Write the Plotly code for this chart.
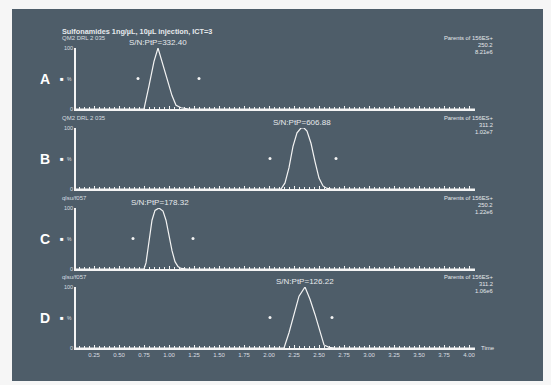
import plotly.graph_objects as go

# ---- data ----
panel_labels = ["A", "B", "C", "D"]
channel_names = ["QM2 DRL 2 035", "QM2 DRL 2 035", "qlsu/f057", "qlsu/f057"]
sn_labels = ["S/N:PtP=332.40", "S/N:PtP=606.88", "S/N:PtP=178.32", "S/N:PtP=126.22"]
masses = ["250.2", "311.2", "250.2", "311.2"]
intensities = ["8.21e6", "1.02e7", "1.22e6", "1.06e6"]
parent_label = "Parents of 156ES+"
title_text = "Sulfonamides 1ng/µL, 10µL injection, ICT=3"

time_a = [0.07, 0.75, 0.80, 0.85, 0.89, 0.93, 0.98, 1.03, 1.07, 1.12, 1.20, 4.06]
int_a = [0, 0, 38, 78, 100, 78, 50, 22, 6, 2, 0, 0]
time_b = [0.07, 2.12, 2.16, 2.20, 2.24, 2.28, 2.32, 2.35, 2.38, 2.42, 2.46, 2.50, 2.54, 2.58, 2.63, 4.06]
int_b = [0, 0, 10, 35, 70, 92, 100, 100, 95, 75, 45, 18, 5, 1, 0, 0]
time_c = [0.07, 0.75, 0.77, 0.80, 0.83, 0.86, 0.90, 0.94, 0.97, 1.00, 1.03, 1.06, 1.09, 1.12, 1.18, 4.06]
int_c = [0, 0, 10, 45, 80, 96, 100, 95, 80, 55, 30, 12, 4, 1, 0, 0]
time_d = [0.07, 2.15, 2.20, 2.25, 2.30, 2.36, 2.41, 2.46, 2.51, 2.55, 2.60, 2.66, 4.06]
int_d = [0, 0, 25, 55, 85, 100, 80, 55, 25, 5, 1, 0, 0]
traces_t = [time_a, time_b, time_c, time_d]
traces_i = [int_a, int_b, int_c, int_d]

dot_times = [[0.69, 1.30], [2.01, 2.67], [0.64, 1.24], [2.01, 2.63]]
dot_level = [50, 50, 50, 50]
peak_times = [0.89, 2.33, 0.91, 2.36]

x_ticks = [0.25, 0.50, 0.75, 1.00, 1.25, 1.50, 1.75, 2.00, 2.25, 2.50, 2.75, 3.00, 3.25, 3.50, 3.75, 4.00]
x_range = [0.07, 4.06]

# ---- layout geometry (pixels) ----
W, H = 551, 385
x_left, x_right = 76, 475
panel_px = [(48, 109), (128, 189), (208, 269), (287, 348)]

def py(p):
    return 1 - p / H

def px(p):
    return p / W

FONT = "Liberation Sans"
WHITE = "#f4f4f4"
TXT = "#e6e9ec"

fig = go.Figure()
for k in range(4):
    xa = "x" if k == 0 else f"x{k+1}"
    ya = "y" if k == 0 else f"y{k+1}"
    fig.add_trace(go.Scatter(x=traces_t[k], y=traces_i[k], mode="lines",
                             line=dict(color=WHITE, width=1.2),
                             xaxis=xa, yaxis=ya, showlegend=False, hoverinfo="skip"))
    fig.add_trace(go.Scatter(x=dot_times[k], y=[dot_level[k]] * len(dot_times[k]), mode="markers",
                             marker=dict(color=WHITE, size=3),
                             xaxis=xa, yaxis=ya, showlegend=False, hoverinfo="skip"))

layout = dict(
    width=W, height=H, margin=dict(l=0, r=0, t=0, b=0, autoexpand=False),
    paper_bgcolor="#f6f6f6", plot_bgcolor="rgba(0,0,0,0)",
    font=dict(family=FONT, color=TXT, size=6),
)


def note(x, y, text, size, xanchor="center", color=TXT):
    return dict(x=px(x), y=py(y), xref="paper", yref="paper", xanchor=xanchor, yanchor="middle",
                text=text, showarrow=False, font=dict(size=size, color=color, family=FONT))


annotations = []
for k in range(4):
    top, bot = panel_px[k]
    xkey = "xaxis" if k == 0 else f"xaxis{k+1}"
    ykey = "yaxis" if k == 0 else f"yaxis{k+1}"
    xref = "x" if k == 0 else f"x{k+1}"
    yref = "y" if k == 0 else f"y{k+1}"
    layout[xkey] = dict(
        domain=[px(x_left), px(x_right)], range=x_range, anchor=yref, automargin=False,
        showgrid=False, zeroline=False, showline=True, linecolor=WHITE, linewidth=1.5,
        tickvals=x_ticks, ticktext=[f"{v:.2f}" for v in x_ticks],
        showticklabels=(k == 3), ticks="inside", ticklen=3, tickcolor=WHITE, tickwidth=1,
        minor=dict(dtick=0.05, tick0=0, ticks="inside", ticklen=2, tickcolor=WHITE),
        tickfont=dict(size=6, color="#d8dde0", family=FONT),
    )
    layout[ykey] = dict(
        domain=[py(bot), py(top)], range=[0, 100], anchor=xref, automargin=False,
        showgrid=False, zeroline=False, showline=True, linecolor=WHITE, linewidth=1.5,
        tickvals=[0, 100], ticktext=["0", "100"], ticks="", ticklen=0,
        tickfont=dict(size=5.5, color="#d8dde0", family=FONT),
    )
    ymid = (top + bot) / 2
    annotations.append(note(45, ymid, "<b>" + panel_labels[k] + "</b>", 14, color="white"))
    annotations.append(note(62, ymid, "■", 6, color="white"))
    annotations.append(note(69, ymid, "%", 5, color="#d8dde0"))
    annotations.append(note(60, top - 10, channel_names[k], 6, xanchor="left", color="#d8dde0"))
    annotations.append(dict(x=peak_times[k], y=100, xref=xref, yref=yref, xanchor="center",
                            yanchor="bottom", text=sn_labels[k], showarrow=False, yshift=-1,
                            font=dict(size=8, color=TXT, family=FONT)))
    for j, t in enumerate([parent_label, masses[k], intensities[k]]):
        annotations.append(note(495, top - 10 + 7 * j, t, 5.8, xanchor="right"))

annotations.append(note(60, 31, "<b>" + title_text + "</b>", 7.3, xanchor="left"))
annotations.append(note(479, 348, "Time", 6, xanchor="left"))
layout["annotations"] = annotations
layout["shapes"] = [dict(type="rect", xref="paper", yref="paper", layer="below",
                         x0=px(12), x1=px(543), y0=py(381), y1=py(9),
                         fillcolor="#4e5d69", line=dict(width=0))]
fig.update_layout(**layout)
fig.write_html("out.html", config={"displayModeBar": False},
               post_script="document.body.style.margin='0';document.body.style.overflow='hidden';")
